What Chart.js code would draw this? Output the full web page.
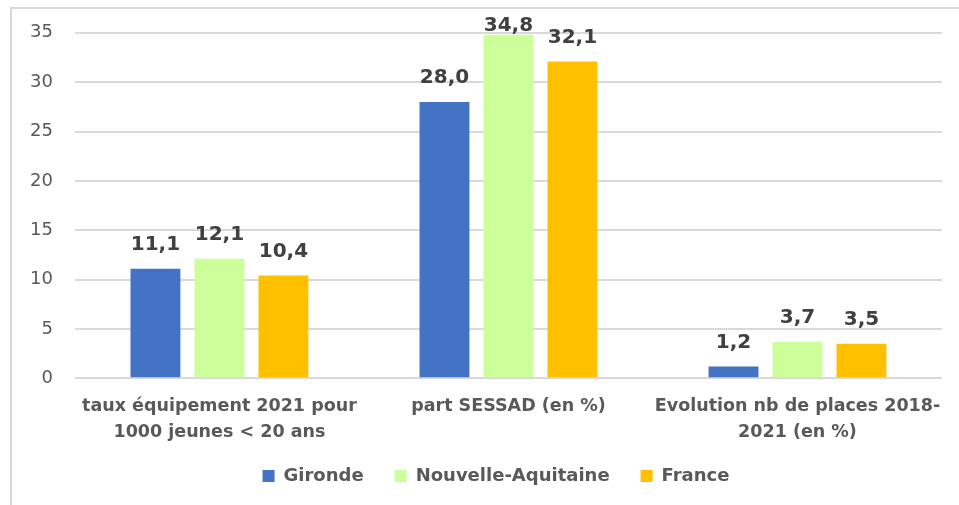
<!DOCTYPE html>
<html>
<head>
<meta charset="utf-8">
<script src="https://cdn.jsdelivr.net/npm/chart.js@4/dist/chart.umd.min.js"></script>
<style>
  body { margin: 0; background: #fff; overflow: hidden; }
  #frame { position: absolute; left: 10px; top: 7px; width: 1000px; height: 520px;
           border-left: 2px solid #d9d9d9; border-top: 2px solid #d9d9d9; }
  #wrap { position: absolute; left: 0; top: 0; width: 959px; height: 505px; }
</style>
</head>
<body>
<div id="frame"></div>
<div id="wrap"><canvas id="barChart"></canvas></div>
<script>
// categories and series
var categories = [
    ["taux équipement 2021 pour", "1000 jeunes < 20 ans"],
    "part SESSAD (en %)",
    ["Evolution nb de places 2018-", "2021 (en %)"]
];
var gironde = [11.1, 28.0, 1.2];
var nouvelleAquitaine = [12.1, 34.8, 3.7];
var france = [10.4, 32.1, 3.5];
var seriesNames = ["Gironde", "Nouvelle-Aquitaine", "France"];
var yTicks = [0, 5, 10, 15, 20, 25, 30, 35];

var LEGEND_CUT = 17;

// wide gaps between legend items, without eating the plot height
var legendSpace = {
    id: "legendSpace",
    beforeInit(chart) {
        let fit = chart.legend.fit;
        chart.legend.fit = function () {
            fit.bind(chart.legend)();
            this.height -= LEGEND_CUT;
        };
    },
    beforeDraw(chart) {
        // put it back where it was, a bit right of centre like the original
        chart.legend.top -= LEGEND_CUT;
        chart.legend.left += 42;
    }
};

// write values above the bars, with a comma like in the original
var valueLabels = {
    id: "valueLabels",
    afterDatasetsDraw(chart) {
        let ctx = chart.ctx;
        ctx.save();
        ctx.font = "bold 20px 'DejaVu Sans'";
        ctx.fillStyle = "#404040";
        ctx.textAlign = "center";
        ctx.textBaseline = "bottom";
        chart.data.datasets.forEach((ds, i) => {
            chart.getDatasetMeta(i).data.forEach((bar, j) => {
                let txt = ds.data[j].toFixed(1).replace(".", ",");
                // tall bars: label squeezed down onto the bar
                let y = Math.max(bar.y - 14, chart.chartArea.top + 3);
                ctx.fillText(txt, bar.x, y);
            });
        });
        ctx.restore();
    }
};

function drawBars() {
    var ctx = document.getElementById("barChart").getContext("2d");
    var myChart = new Chart(ctx, {
        type: "bar",
        data: {
            labels: categories,
            datasets: [
                { label: seriesNames[0], data: gironde, backgroundColor: "#4472C4" },
                { label: seriesNames[1], data: nouvelleAquitaine, backgroundColor: "#CCFF99" },
                { label: seriesNames[2], data: france, backgroundColor: "#FFC000" }
            ]
        },
        options: {
            responsive: true,
            maintainAspectRatio: false,
            animation: false,
            datasets: { bar: { categoryPercentage: 0.664, barPercentage: 0.78 } },
            layout: { padding: { left: 8, right: 17, top: 27, bottom: 10 } },
            plugins: {
                tooltip: { enabled: false },
                legend: {
                    position: "bottom",
                    labels: {
                        boxWidth: 12,
                        boxHeight: 12,
                        padding: 31,
                        color: "#595959",
                        font: { family: "'DejaVu Sans'", size: 18, weight: "bold" }
                    }
                }
            },
            scales: {
                x: {
                    grid: { display: false },
                    border: { display: false },
                    ticks: {
                        color: "#595959",
                        padding: 8,
                        maxRotation: 0,
                        font: { family: "'DejaVu Sans'", size: 17.5, weight: "bold", lineHeight: 1.45 }
                    }
                },
                y: {
                    min: 0,
                    max: 35,
                    afterBuildTicks: axis => { axis.ticks = yTicks.map(v => ({ value: v })); },
                    grid: { color: "#d9d9d9", lineWidth: 2, drawTicks: false },
                    border: { display: false },
                    ticks: {
                        color: "#595959",
                        padding: 22,
                        font: { family: "'DejaVu Sans'", size: 18 }
                    }
                }
            }
        },
        plugins: [legendSpace, valueLabels]
    });
}

drawBars();
</script>
</body>
</html>
